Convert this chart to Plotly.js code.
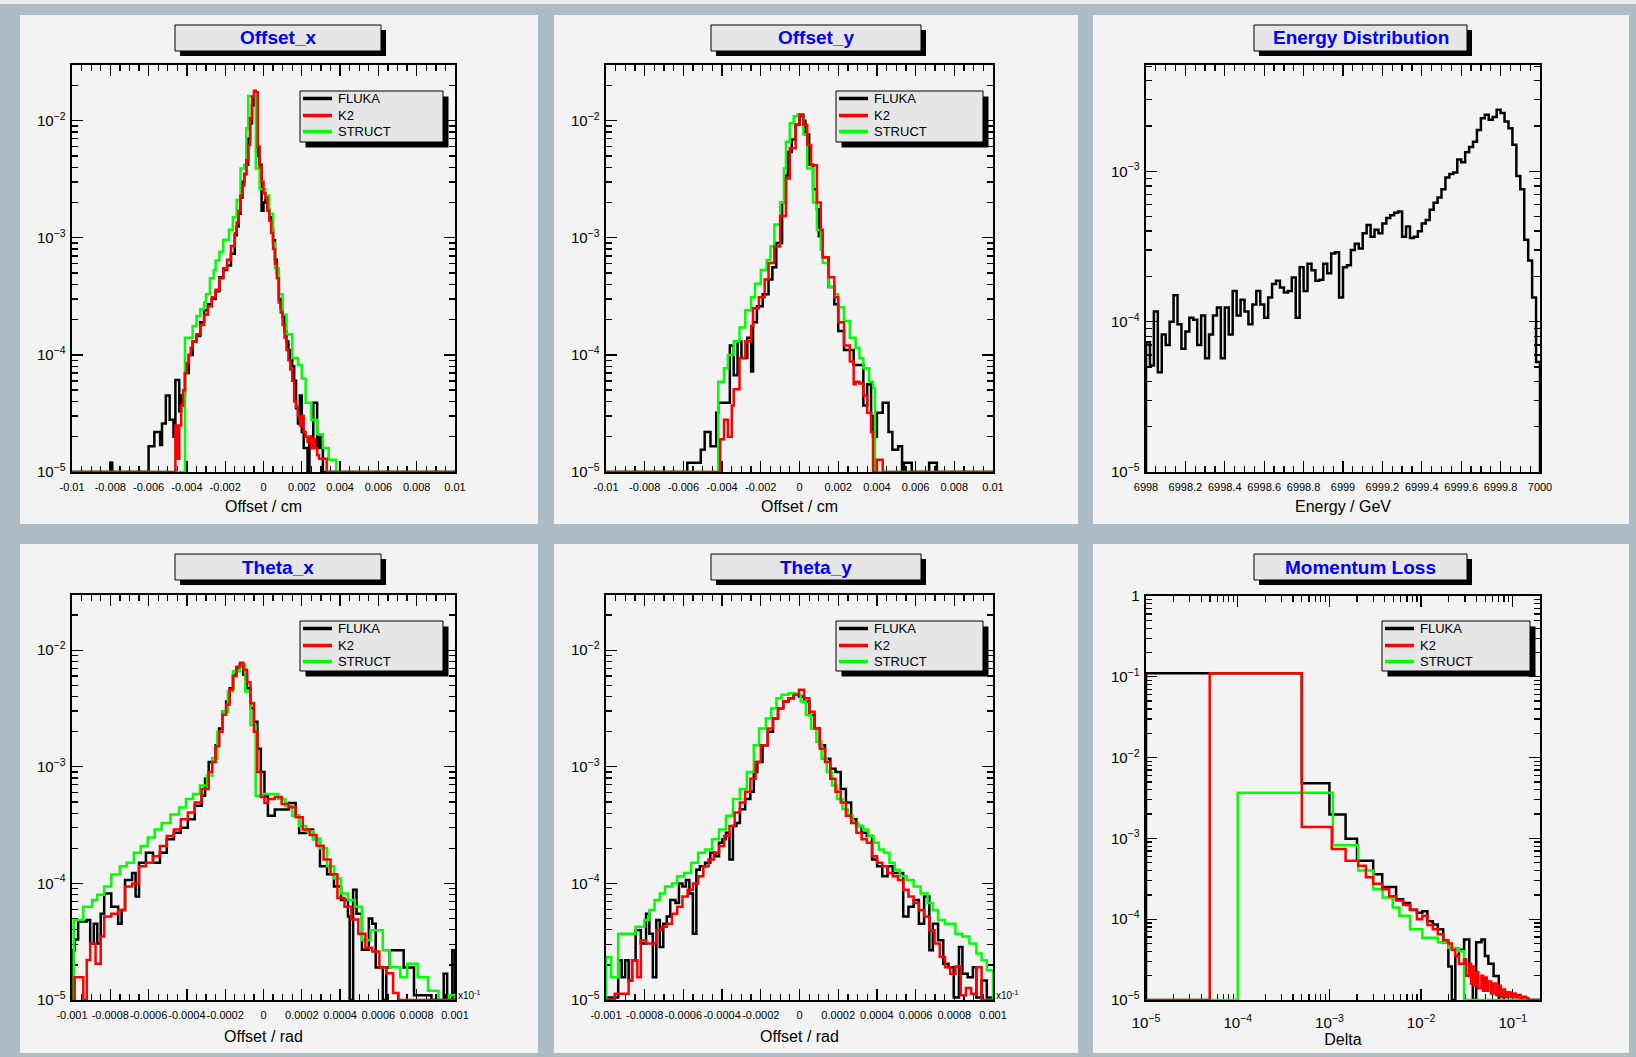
<!DOCTYPE html>
<html><head><meta charset="utf-8">
<script src="https://cdn.plot.ly/plotly-3.0.1.min.js"></script>
<style>html,body{margin:0;padding:0;background:#aebcc6;}#chart{width:1636px;height:1057px;}</style>
</head><body><div id="chart"></div>
<script>
// ---------------- DATA (bin left edges, bin contents; 0 = empty bin) ----------------
const seriesNames = ['FLUKA','K2','STRUCT'];
const panelTitles = ['Offset_x','Offset_y','Energy Distribution','Theta_x','Theta_y','Momentum Loss'];
const axisTitles = ['Offset / cm','Offset / cm','Energy / GeV','Offset / rad','Offset / rad','Delta'];

const offsetTickVals = [-0.01,-0.008,-0.006,-0.004,-0.002,0,0.002,0.004,0.006,0.008,0.01];
const offsetTickText = ['-0.01','-0.008','-0.006','-0.004','-0.002','0','0.002','0.004','0.006','0.008','0.01'];
const thetaTickVals = [-0.001,-0.0008,-0.0006,-0.0004,-0.0002,0,0.0002,0.0004,0.0006,0.0008,0.001];
const thetaTickText = ['-0.001','-0.0008','-0.0006','-0.0004','-0.0002','0','0.0002','0.0004','0.0006','0.0008','0.001'];
const energyTickVals = [6998,6998.2,6998.4,6998.6,6998.8,6999,6999.2,6999.4,6999.6,6999.8,7000];
const energyTickText = ['6998','6998.2','6998.4','6998.6','6998.8','6999','6999.2','6999.4','6999.6','6999.8','7000'];

// Offset_x
const offx_fluka_x = [-0.0080,-0.0079,-0.0060,-0.0057,-0.0054,-0.0053,-0.0051,-0.0049,-0.0047,-0.0046,-0.0044,-0.0043,-0.0041,-0.0039,-0.0037,-0.0035,-0.0033,-0.0031,-0.0029,-0.0027,-0.0025,-0.0023,-0.0021,-0.0019,-0.0017,-0.0015,-0.0014,-0.0013,-0.0012,-0.0011,-0.0010,-0.0009,-0.0008,-0.0007,-0.0006,-0.0005,-0.0004,-0.0003,-0.0002,-0.0001,0,0.0001,0.0002,0.0003,0.0004,0.0005,0.0006,0.0007,0.0008,0.0009,0.0010,0.0011,0.0012,0.0013,0.0014,0.0015,0.0016,0.0017,0.0018,0.0019,0.0020,0.0021,0.0022,0.0023,0.0024,0.0025,0.0026,0.0027,0.0028,0.0029,0.0030,0.0031,0.0032];
const offx_fluka_y = [1.2e-5,0,1.66e-5,2.2e-5,1.7e-5,2.6e-5,4.5e-5,2.8e-5,2.0e-5,6.1e-5,3.3e-5,4.5e-5,7.0e-5,1.0e-4,1.3e-4,1.45e-4,1.9e-4,2.4e-4,2.7e-4,3.0e-4,3.5e-4,4.6e-4,5.3e-4,5.8e-4,7.3e-4,1.05e-3,1.25e-3,1.6e-3,2.2e-3,3.0e-3,3.5e-3,4.2e-3,7.0e-3,9.5e-3,1.35e-2,1.55e-2,1.4e-2,5.0e-3,4.2e-3,1.7e-3,2.0e-3,2.1e-3,1.75e-3,1.5e-3,1.2e-3,9.5e-4,6.5e-4,5.0e-4,3.0e-4,2.5e-4,2.1e-4,1.6e-4,1.3e-4,1.1e-4,9.4e-5,8.0e-5,6.0e-5,3.5e-5,2.6e-5,4.5e-5,2.2e-5,1.6e-5,1.6e-5,0,2.0e-5,1.6e-5,3.9e-5,3.9e-5,1.6e-5,2.0e-5,1.6e-5,0,0];
const offx_k2_x = [-0.0046,-0.0045,-0.0044,-0.0043,-0.0042,-0.0041,-0.0040,-0.0039,-0.0038,-0.0037,-0.0035,-0.0033,-0.0031,-0.0029,-0.0027,-0.0025,-0.0023,-0.0021,-0.0019,-0.0017,-0.0015,-0.0014,-0.0013,-0.0012,-0.0011,-0.0010,-0.0009,-0.0008,-0.0007,-0.0006,-0.0005,-0.0004,-0.0003,-0.0002,-0.0001,0,0.0001,0.0002,0.0003,0.0004,0.0005,0.0006,0.0007,0.0008,0.0009,0.0010,0.0011,0.0012,0.0013,0.0014,0.0015,0.0016,0.0017,0.0018,0.0019,0.0020,0.0021,0.0022,0.0023,0.0024,0.0025,0.0026,0.0027,0.0028,0.0029,0.0030,0.0031,0.0032,0.0033];
const offx_k2_y = [2.5e-5,1.3e-5,2.5e-5,3.7e-5,5.0e-5,7.0e-5,8.5e-5,1.0e-4,1.15e-4,1.3e-4,1.5e-4,1.8e-4,2.2e-4,2.6e-4,3.1e-4,3.6e-4,4.5e-4,5.5e-4,6.5e-4,8.5e-4,1.1e-3,1.35e-3,1.7e-3,2.3e-3,2.8e-3,3.5e-3,4.6e-3,6.2e-3,1.05e-2,1.6e-2,1.8e-2,1.75e-2,6.0e-3,4.0e-3,3.0e-3,2.4e-3,2.2e-3,1.7e-3,1.4e-3,1.1e-3,8.0e-4,6.0e-4,4.5e-4,2.8e-4,2.3e-4,1.8e-4,1.4e-4,1.1e-4,9.0e-5,7.5e-5,6.0e-5,4.0e-5,3.6e-5,3.0e-5,2.5e-5,3.0e-5,2.2e-5,2.0e-5,1.8e-5,2.0e-5,1.6e-5,1.9e-5,1.6e-5,1.4e-5,1.3e-5,1.3e-5,1.3e-5,1.3e-5,0];
const offx_struct_x = [-0.0041,-0.0037,-0.0035,-0.0033,-0.0031,-0.0030,-0.0028,-0.0026,-0.0025,-0.0023,-0.0021,-0.0018,-0.0016,-0.0014,-0.0012,-0.0010,-0.0009,-0.0008,-0.0004,-0.0002,0.0001,0.0003,0.0005,0.0006,0.0008,0.0010,0.0012,0.0015,0.0018,0.0020,0.0022,0.0025,0.0028,0.0031,0.0034,0.0038];
const offx_struct_y = [1.4e-4,1.76e-4,2.15e-4,2.45e-4,2.8e-4,3.3e-4,4.5e-4,5.3e-4,6.4e-4,7.6e-4,9.6e-4,1.17e-3,1.5e-3,2.1e-3,3.9e-3,4.2e-3,8.6e-3,1.62e-2,3.9e-3,2.6e-3,2.3e-3,1.6e-3,9.0e-4,5.5e-4,3.3e-4,2.2e-4,1.5e-4,9.4e-5,8.2e-5,6.3e-5,3.9e-5,2.8e-5,2.1e-5,1.6e-5,1.27e-5,0];

// Offset_y
const offy_fluka_x = [-0.0058,-0.0051,-0.0049,-0.0046,-0.0043,-0.0042,-0.0036,-0.0034,-0.0032,-0.0030,-0.0027,-0.0025,-0.0024,-0.0022,-0.0019,-0.0016,-0.0014,-0.0012,-0.0009,-0.0007,-0.0006,-0.0004,-0.0002,0,0.0002,0.0003,0.0005,0.0007,0.0009,0.0010,0.0012,0.0015,0.0018,0.0020,0.0023,0.0026,0.0028,0.0031,0.0033,0.0035,0.0037,0.0038,0.0040,0.0043,0.0046,0.0048,0.0051,0.0053,0.0054,0.0058,0.0067,0.0071];
const offy_fluka_y = [1.2e-5,1.55e-5,2.2e-5,1.66e-5,3.2e-5,3.9e-5,1.2e-4,6.7e-5,1.3e-4,9.4e-5,1.4e-4,7.2e-5,1.9e-4,2.6e-4,3.3e-4,4.4e-4,5.6e-4,9.0e-4,2.0e-3,3.4e-3,5.4e-3,6.9e-3,9.2e-3,1.09e-2,1.0e-2,7.6e-3,4.2e-3,2.6e-3,1.75e-3,1.03e-3,6.8e-4,3.8e-4,2.7e-4,1.6e-4,1.1e-4,1.1e-4,8.2e-5,8.2e-5,3.7e-5,5.6e-5,3.0e-5,2.0e-5,3.2e-5,3.9e-5,2.2e-5,1.55e-5,1.66e-5,0,1.2e-5,0,1.2e-5,0];
const offy_k2_x = [-0.0041,-0.0039,-0.0037,-0.0035,-0.0034,-0.0031,-0.0028,-0.0025,-0.0024,-0.0021,-0.0018,-0.0016,-0.0013,-0.0010,-0.0007,-0.0005,-0.0002,0,0.0002,0.0004,0.0006,0.0009,0.0011,0.0012,0.0015,0.0018,0.0020,0.0023,0.0026,0.0028,0.0029,0.0031,0.0033,0.0035,0.0037,0.0038,0.0040,0.0043];
const offy_k2_y = [1.9e-5,2.8e-5,2.0e-5,3.7e-5,5.1e-5,9.4e-5,1.31e-4,1.76e-4,2.5e-4,3.1e-4,4.4e-4,6.1e-4,8.4e-4,1.53e-3,3.2e-3,5.8e-3,9.2e-3,1.13e-2,9.2e-3,6.2e-3,4.15e-3,2.0e-3,1.17e-3,6.8e-4,4.6e-4,3.1e-4,1.9e-4,1.2e-4,8.8e-5,5.6e-5,5.9e-5,5.7e-5,4.5e-5,3.2e-5,2.2e-5,0,1.27e-5,0];
const offy_struct_x = [-0.0042,-0.0039,-0.0037,-0.0034,-0.0031,-0.0028,-0.0025,-0.0023,-0.0020,-0.0017,-0.0015,-0.0013,-0.0010,-0.0008,-0.0007,-0.0005,-0.0003,-0.0001,0.0002,0.0004,0.0007,0.0009,0.0011,0.0012,0.0015,0.0018,0.0020,0.0023,0.0026,0.0029,0.0031,0.0033,0.0036,0.0038,0.0039];
const offy_struct_y = [5.9e-5,7.7e-5,1.0e-4,1.31e-4,1.71e-4,2.4e-4,3.1e-4,4.05e-4,5.3e-4,6.45e-4,8.4e-4,1.3e-3,2.0e-3,3.9e-3,6.6e-3,9.5e-3,1.09e-2,1.13e-2,7.6e-3,3.9e-3,2.0e-3,1.17e-3,7.9e-4,6.1e-4,3.8e-4,3.3e-4,2.55e-4,1.95e-4,1.4e-4,1.15e-4,9.4e-5,7.7e-5,5.9e-5,5.2e-5,0];

// Energy distribution (FLUKA only)
const energy_x = [6998.00,6998.02,6998.04,6998.06,6998.08,6998.10,6998.12,6998.14,6998.16,6998.18,6998.20,6998.22,6998.24,6998.26,6998.28,6998.30,6998.32,6998.34,6998.36,6998.38,6998.40,6998.42,6998.44,6998.46,6998.48,6998.50,6998.52,6998.54,6998.56,6998.58,6998.60,6998.62,6998.64,6998.66,6998.68,6998.70,6998.72,6998.74,6998.76,6998.78,6998.80,6998.82,6998.84,6998.86,6998.88,6998.90,6998.92,6998.94,6998.96,6998.98,6999.00,6999.02,6999.04,6999.06,6999.08,6999.10,6999.12,6999.14,6999.16,6999.18,6999.20,6999.22,6999.24,6999.26,6999.28,6999.30,6999.32,6999.34,6999.36,6999.38,6999.40,6999.42,6999.44,6999.46,6999.48,6999.50,6999.52,6999.54,6999.56,6999.58,6999.60,6999.62,6999.64,6999.66,6999.68,6999.70,6999.72,6999.74,6999.76,6999.78,6999.80,6999.82,6999.84,6999.86,6999.88,6999.90,6999.92,6999.94,6999.96,6999.98,7000.00];
const energy_y = [7.3e-5,5.1e-5,1.17e-4,4.6e-5,8.2e-5,7.0e-5,1.0e-4,1.5e-4,9.6e-5,6.6e-5,8.6e-5,1.06e-4,1.03e-4,7.0e-5,1.1e-4,5.7e-5,8.2e-5,1.1e-4,1.24e-4,5.7e-5,1.24e-4,8.2e-5,1.6e-4,1.1e-4,1.4e-4,1.17e-4,9.6e-5,1.3e-4,1.6e-4,1.3e-4,1.06e-4,1.45e-4,1.78e-4,1.87e-4,1.69e-4,1.56e-4,1.6e-4,1.97e-4,1.06e-4,2.3e-4,1.6e-4,2.43e-4,2.2e-4,1.87e-4,1.9e-4,2.43e-4,2.1e-4,2.84e-4,2.9e-4,1.45e-4,2.3e-4,2.37e-4,3.0e-4,3.3e-4,3.06e-4,3.87e-4,4.4e-4,3.67e-4,4.08e-4,3.87e-4,4.5e-4,4.9e-4,5.1e-4,5.3e-4,5.4e-4,3.67e-4,4.3e-4,3.6e-4,3.67e-4,4.0e-4,4.5e-4,4.75e-4,5.56e-4,6.17e-4,6.7e-4,7.6e-4,9.1e-4,9.6e-4,9.8e-4,1.2e-3,1.15e-3,1.34e-3,1.45e-3,1.57e-3,1.88e-3,2.25e-3,2.38e-3,2.2e-3,2.3e-3,2.57e-3,2.44e-3,2.14e-3,1.93e-3,1.5e-3,9.3e-4,7.6e-4,3.5e-4,2.55e-4,1.45e-4,5.4e-5,0];

// Theta_x
const thx_fluka_x = [-10.0e-4,-9.86e-4,-9.68e-4,-9.23e-4,-9.05e-4,-8.86e-4,-8.68e-4,-8.5e-4,-8.32e-4,-7.95e-4,-7.59e-4,-7.41e-4,-7.23e-4,-6.86e-4,-6.68e-4,-6.5e-4,-6.14e-4,-5.77e-4,-5.41e-4,-5.05e-4,-4.68e-4,-4.32e-4,-3.95e-4,-3.59e-4,-3.23e-4,-3.05e-4,-2.86e-4,-2.68e-4,-2.5e-4,-2.32e-4,-2.14e-4,-1.95e-4,-1.77e-4,-1.59e-4,-1.41e-4,-1.23e-4,-1.05e-4,-0.86e-4,-0.68e-4,-0.5e-4,-0.32e-4,-0.14e-4,0.05e-4,0.23e-4,0.59e-4,0.95e-4,1.32e-4,1.68e-4,1.86e-4,2.23e-4,2.59e-4,2.95e-4,3.32e-4,3.68e-4,4.05e-4,4.41e-4,4.5e-4,4.68e-4,4.86e-4,5.14e-4,5.5e-4,5.68e-4,5.86e-4,6.23e-4,6.41e-4,6.59e-4,6.95e-4,7.32e-4,7.86e-4,8.77e-4,9.41e-4,9.59e-4,9.86e-4,10.0e-4];
const thx_fluka_y = [2.67e-5,3.3e-5,4.7e-5,4.85e-5,3.05e-5,4.5e-5,3.05e-5,5.5e-5,8.2e-5,6.3e-5,4.5e-5,5.9e-5,1.07e-4,1.23e-4,7.7e-5,1.5e-4,1.83e-4,1.5e-4,1.83e-4,2.39e-4,2.72e-4,3.0e-4,3.55e-4,4.63e-4,5.65e-4,7.9e-4,1.1e-3,1.17e-3,1.53e-3,2.13e-3,2.97e-3,3.62e-3,4.72e-3,6.16e-3,7.03e-3,7.52e-3,6.16e-3,4.72e-3,3.17e-3,2.43e-3,1.43e-3,9.0e-4,5.6e-4,3.8e-4,4.3e-4,4.3e-4,4.9e-4,3.8e-4,2.7e-4,2.9e-4,2.4e-4,1.4e-4,1.2e-4,9.4e-5,7.2e-5,5.2e-5,0,8.8e-5,5.5e-5,2.7e-5,5.0e-5,4.5e-5,1.9e-5,0,1.9e-5,2.67e-5,2.67e-5,1.9e-5,1.1e-5,0,1.68e-5,0,2.67e-5,0];
const thx_k2_x = [-9.86e-4,-9.41e-4,-9.23e-4,-9.05e-4,-8.77e-4,-8.5e-4,-8.32e-4,-7.95e-4,-7.59e-4,-7.23e-4,-6.86e-4,-6.5e-4,-6.14e-4,-5.77e-4,-5.41e-4,-5.05e-4,-4.68e-4,-4.32e-4,-3.95e-4,-3.59e-4,-3.23e-4,-2.86e-4,-2.68e-4,-2.5e-4,-2.32e-4,-2.14e-4,-1.95e-4,-1.77e-4,-1.59e-4,-1.41e-4,-1.23e-4,-1.05e-4,-0.86e-4,-0.68e-4,-0.5e-4,-0.32e-4,-0.14e-4,0.05e-4,0.23e-4,0.59e-4,0.95e-4,1.32e-4,1.68e-4,2.05e-4,2.41e-4,2.77e-4,3.14e-4,3.5e-4,3.86e-4,4.23e-4,4.59e-4,4.95e-4,5.32e-4,5.68e-4,6.05e-4,6.41e-4,6.77e-4,7.05e-4];
const thx_k2_y = [1.57e-5,0,2.2e-5,3.05e-5,2.05e-5,3.5e-5,5.2e-5,5.5e-5,5.9e-5,9.4e-5,1.0e-4,1.4e-4,1.5e-4,1.71e-4,2.09e-4,2.55e-4,2.9e-4,3.55e-4,4.05e-4,4.95e-4,6.45e-4,9.0e-4,1.1e-3,1.5e-3,2.0e-3,2.8e-3,3.4e-3,4.6e-3,6.0e-3,7.2e-3,7.8e-3,6.8e-3,5.3e-3,3.5e-3,2.0e-3,9.0e-4,5.5e-4,4.9e-4,5.3e-4,5.5e-4,4.8e-4,4.5e-4,3.7e-4,2.9e-4,2.6e-4,2.1e-4,1.6e-4,1.2e-4,7.5e-5,6.3e-5,4.9e-5,3.7e-5,2.8e-5,2.6e-5,1.9e-5,1.7e-5,1.15e-5,0];
const thx_struct_x = [-9.91e-4,-9.41e-4,-8.95e-4,-8.68e-4,-8.32e-4,-7.95e-4,-7.5e-4,-7.14e-4,-6.77e-4,-6.41e-4,-6.05e-4,-5.68e-4,-5.32e-4,-4.86e-4,-4.41e-4,-4.05e-4,-3.68e-4,-3.32e-4,-2.95e-4,-2.68e-4,-2.41e-4,-2.14e-4,-1.86e-4,-1.59e-4,-1.23e-4,-0.95e-4,-0.68e-4,-0.41e-4,-0.05e-4,0.77e-4,1.14e-4,1.5e-4,1.86e-4,2.23e-4,2.59e-4,2.95e-4,3.32e-4,3.68e-4,4.05e-4,4.41e-4,4.77e-4,5.14e-4,5.59e-4,6.23e-4,6.59e-4,7.14e-4,7.5e-4,8.05e-4,8.59e-4,9.14e-4,9.68e-4,10.0e-4];
const thx_struct_y = [4.85e-5,6.3e-5,7.2e-5,8.0e-5,9.4e-5,1.19e-4,1.4e-4,1.5e-4,1.83e-4,2.09e-4,2.47e-4,2.9e-4,3.3e-4,3.9e-4,4.48e-4,5.3e-4,5.85e-4,6.9e-4,8.4e-4,1.17e-3,2.0e-3,2.97e-3,4.42e-3,6.6e-3,7.52e-3,4.42e-3,2.28e-3,5.65e-4,5.85e-4,5.3e-4,4.63e-4,3.8e-4,3.1e-4,2.8e-4,2.39e-4,2.0e-4,1.4e-4,1.1e-4,8.2e-5,7.2e-5,6.3e-5,3.26e-5,3.97e-5,2.67e-5,1.91e-5,1.57e-5,2.05e-5,1.57e-5,1.2e-5,0,1.1e-5,0];

// Theta_y
const thy_fluka_x = [-10.0e-4,-9.37e-4,-9.19e-4,-9.01e-4,-8.83e-4,-8.65e-4,-8.47e-4,-8.2e-4,-7.93e-4,-7.76e-4,-7.58e-4,-7.4e-4,-7.22e-4,-7.04e-4,-6.86e-4,-6.68e-4,-6.41e-4,-6.23e-4,-6.05e-4,-5.87e-4,-5.69e-4,-5.51e-4,-5.33e-4,-5.15e-4,-4.88e-4,-4.61e-4,-4.34e-4,-4.16e-4,-3.98e-4,-3.8e-4,-3.62e-4,-3.44e-4,-3.26e-4,-3.08e-4,-2.81e-4,-2.54e-4,-2.36e-4,-2.18e-4,-1.91e-4,-1.64e-4,-1.37e-4,-1.11e-4,-0.84e-4,-0.57e-4,-0.3e-4,-0.03e-4,0.24e-4,0.51e-4,0.78e-4,1.05e-4,1.32e-4,1.59e-4,1.86e-4,2.13e-4,2.4e-4,2.67e-4,2.94e-4,3.21e-4,3.48e-4,3.75e-4,4.01e-4,4.28e-4,4.55e-4,4.82e-4,5.09e-4,5.36e-4,5.63e-4,5.9e-4,6.17e-4,6.44e-4,6.71e-4,6.89e-4,7.16e-4,7.43e-4,7.7e-4,7.97e-4,8.24e-4,8.42e-4,8.69e-4,8.96e-4,9.14e-4,9.41e-4,9.68e-4,10.0e-4];
const thy_fluka_y = [1.05e-5,2.19e-5,1.57e-5,2.19e-5,1.47e-5,2.19e-5,3.97e-5,3.05e-5,5.5e-5,3.7e-5,1.57e-5,4.85e-5,2.85e-5,4.5e-5,5.2e-5,7.2e-5,6.8e-5,1.0e-4,9.4e-5,1.07e-4,8.2e-5,3.7e-5,1.31e-4,1.4e-4,1.5e-4,1.83e-4,1.71e-4,2.23e-4,2.39e-4,2.72e-4,1.6e-4,3.1e-4,3.3e-4,4.33e-4,5.3e-4,6.1e-4,9.0e-4,1.1e-3,1.53e-3,2.0e-3,2.6e-3,3.17e-3,3.62e-3,3.87e-3,4.14e-3,4.0e-3,3.62e-3,2.78e-3,2.13e-3,1.53e-3,1.17e-3,9.6e-4,9.0e-4,6.45e-4,4.95e-4,3.55e-4,3.1e-4,2.72e-4,2.55e-4,1.6e-4,1.4e-4,1.15e-4,1.4e-4,1.23e-4,1.23e-4,5.2e-5,6.3e-5,7.2e-5,4.5e-5,7.7e-5,2.67e-5,4.5e-5,3.26e-5,2.05e-5,1.91e-5,1.05e-5,2.85e-5,1.68e-5,1.57e-5,1.91e-5,1.05e-5,1.47e-5,1.05e-5,0];
const thy_k2_x = [-9.55e-4,-8.83e-4,-8.65e-4,-8.38e-4,-8.2e-4,-7.93e-4,-7.4e-4,-7.13e-4,-6.86e-4,-6.59e-4,-6.32e-4,-6.05e-4,-5.78e-4,-5.51e-4,-5.24e-4,-4.97e-4,-4.7e-4,-4.43e-4,-4.16e-4,-3.89e-4,-3.62e-4,-3.35e-4,-3.08e-4,-2.81e-4,-2.54e-4,-2.27e-4,-2.0e-4,-1.64e-4,-1.37e-4,-1.11e-4,-0.84e-4,-0.57e-4,-0.3e-4,-0.03e-4,0.24e-4,0.51e-4,0.78e-4,1.05e-4,1.32e-4,1.59e-4,1.86e-4,2.13e-4,2.4e-4,2.67e-4,2.94e-4,3.21e-4,3.48e-4,3.75e-4,4.01e-4,4.28e-4,4.55e-4,4.82e-4,5.09e-4,5.36e-4,5.63e-4,5.9e-4,6.17e-4,6.44e-4,6.71e-4,6.98e-4,7.25e-4,7.52e-4,7.79e-4,8.06e-4,8.33e-4,8.6e-4,8.87e-4,9.14e-4,9.41e-4];
const thy_k2_y = [1.13e-5,1.47e-5,2.19e-5,1.57e-5,3.26e-5,3.05e-5,3.97e-5,4.25e-5,4.5e-5,5.5e-5,6.3e-5,7.7e-5,8.8e-5,1.0e-4,1.15e-4,1.4e-4,1.6e-4,1.83e-4,2.09e-4,2.55e-4,3.1e-4,4.05e-4,4.95e-4,6.1e-4,7.9e-4,1.1e-3,1.53e-3,2.13e-3,2.6e-3,3.17e-3,3.62e-3,3.87e-3,4.14e-3,4.57e-3,3.87e-3,2.97e-3,2.13e-3,1.43e-3,1.1e-3,7.9e-4,6.1e-4,4.95e-4,3.8e-4,3.3e-4,2.72e-4,2.39e-4,2.23e-4,1.71e-4,1.5e-4,1.4e-4,1.23e-4,1.15e-4,1.07e-4,8.8e-5,7.7e-5,6.8e-5,5.9e-5,5.2e-5,3.97e-5,3.05e-5,2.34e-5,1.91e-5,1.68e-5,1.94e-5,1.1e-5,1.27e-5,1.13e-5,1.91e-5,0];
const thy_struct_x = [-10.0e-4,-9.73e-4,-9.37e-4,-8.47e-4,-8.02e-4,-7.76e-4,-7.49e-4,-7.22e-4,-6.95e-4,-6.59e-4,-6.32e-4,-5.96e-4,-5.6e-4,-5.24e-4,-4.88e-4,-4.52e-4,-4.16e-4,-3.8e-4,-3.44e-4,-3.08e-4,-2.72e-4,-2.36e-4,-2.09e-4,-1.74e-4,-1.46e-4,-1.19e-4,-0.93e-4,-0.57e-4,-0.21e-4,0.06e-4,0.33e-4,0.6e-4,0.87e-4,1.14e-4,1.41e-4,1.68e-4,1.95e-4,2.22e-4,2.49e-4,2.76e-4,3.03e-4,3.29e-4,3.56e-4,3.83e-4,4.1e-4,4.37e-4,4.65e-4,4.92e-4,5.18e-4,5.54e-4,5.9e-4,6.26e-4,6.62e-4,6.89e-4,7.16e-4,7.52e-4,8.06e-4,8.42e-4,8.78e-4,9.14e-4,9.41e-4,9.68e-4,10.0e-4];
const thy_struct_y = [2.34e-5,1.57e-5,3.7e-5,4.25e-5,4.85e-5,5.9e-5,7.2e-5,8.2e-5,9.4e-5,1.0e-4,1.15e-4,1.23e-4,1.5e-4,1.83e-4,1.95e-4,2.39e-4,2.9e-4,3.8e-4,5.3e-4,6.45e-4,9.0e-4,1.53e-3,2.13e-3,2.6e-3,3.17e-3,3.87e-3,4.14e-3,4.28e-3,4.14e-3,3.62e-3,2.78e-3,2.13e-3,1.64e-3,1.17e-3,9.0e-4,6.9e-4,5.3e-4,4.33e-4,3.8e-4,3.3e-4,3.1e-4,2.9e-4,2.55e-4,2.23e-4,1.95e-4,1.83e-4,1.5e-4,1.31e-4,1.15e-4,1.07e-4,9.4e-5,8.2e-5,6.8e-5,5.9e-5,4.85e-5,4.5e-5,3.7e-5,3.5e-5,3.05e-5,2.5e-5,2.19e-5,1.8e-5,0];

// Momentum loss (log x)
const mom_fluka_x = [1e-5,5e-4,1e-3,1.5e-3,2e-3,3e-3,3.76e-3,5.33e-3,6.35e-3,7.57e-3,9.0e-3,1.03e-2,1.17e-2,1.34e-2,1.52e-2,1.74e-2,1.98e-2,2.16e-2,2.36e-2,2.58e-2,2.94e-2,3.35e-2,3.66e-2,3.98e-2,4.54e-2,4.96e-2,5.41e-2,6.17e-2,7.03e-2];
const mom_fluka_y = [0.111,4.8e-3,1.97e-3,9.9e-4,5.3e-4,3.6e-4,2.5e-4,1.77e-4,1.59e-4,1.31e-4,1.2e-4,1.25e-4,9.4e-5,8.6e-5,7.5e-5,5.2e-5,2.6e-5,0,3.5e-5,4.2e-5,5.6e-5,1.98e-5,0,5.2e-5,5.6e-5,3.5e-5,2.8e-5,1.98e-5,0];
const mom_k2_x = [4.95e-5,5e-4,1.06e-3,1.5e-3,2.06e-3,2.5e-3,3.0e-3,3.76e-3,4.48e-3,5.33e-3,6.35e-3,7.57e-3,9.0e-3,1.03e-2,1.17e-2,1.34e-2,1.52e-2,1.74e-2,1.98e-2,2.16e-2,2.36e-2,2.58e-2,2.94e-2,3.1e-2,3.35e-2,3.5e-2,3.66e-2,3.8e-2,3.98e-2,4.2e-2,4.54e-2,4.75e-2,4.96e-2,5.2e-2,5.41e-2,5.8e-2,6.17e-2,6.6e-2,7.03e-2,7.4e-2,7.67e-2,8.2e-2,8.75e-2,9.4e-2,0.1,0.107,0.114,0.122,0.13,0.14,0.148];
const mom_k2_y = [0.111,1.38e-3,7.4e-4,5.3e-4,4.6e-4,3.3e-4,2.74e-4,2.34e-4,1.93e-4,1.7e-4,1.5e-4,1.3e-4,1.0e-4,1.1e-4,8.5e-5,7.5e-5,6.5e-5,5.5e-5,5.0e-5,4.2e-5,3.5e-5,2.8e-5,3.2e-5,2.0e-5,2.8e-5,1.6e-5,2.6e-5,1.5e-5,2.2e-5,1.4e-5,2.0e-5,1.3e-5,1.9e-5,1.3e-5,1.7e-5,1.2e-5,1.6e-5,1.15e-5,1.5e-5,1.1e-5,1.35e-5,1.1e-5,1.25e-5,1.1e-5,1.2e-5,1.08e-5,1.15e-5,1.05e-5,1.1e-5,1.05e-5,0];
const mom_struct_x = [1e-4,1.09e-3,2.06e-3,3.0e-3,3.8e-3,4.9e-3,5.8e-3,7.57e-3,1.03e-2,1.52e-2,1.98e-2,2.58e-2,2.94e-2];
const mom_struct_y = [3.67e-3,8.2e-4,4.0e-4,2.35e-4,1.86e-4,1.4e-4,1.1e-4,7.5e-5,5.9e-5,5.2e-5,4.4e-5,4.0e-5,0];

// ---------------- DRAWING ----------------
const W = 1636, H = 1057;
const FLOOR = 1e-5;
const FONT = 'Liberation Sans, Arial, Helvetica, sans-serif';
const COLORS = {FLUKA:'#000000', K2:'#ff0000', STRUCT:'#00ff00'};
const PAD = '#f3f3f3', CANVAS = '#aebcc6', BOX = '#e6e6e6';

function hist(xs, ys, xmin, xmax, name, n){
  const X=[xmin], Y=[FLOOR];
  const m=Math.min(xs.length, ys.length);
  for(let i=0;i<m;i++){ X.push(xs[i]); Y.push(ys[i]>0?ys[i]:FLOOR); }
  X.push(xmax); Y.push(FLOOR);
  return {type:'scatter', mode:'lines', x:X, y:Y, name:name,
    line:{shape:'hv', color:COLORS[name], width:2.5},
    xaxis:'x'+(n===1?'':n), yaxis:'y'+(n===1?'':n), showlegend:false, hoverinfo:'skip'};
}

const traces = [
  hist(offx_fluka_x, offx_fluka_y, -0.01, 0.01, 'FLUKA', 1),
  hist(offx_struct_x, offx_struct_y, -0.01, 0.01, 'STRUCT', 1),
  hist(offx_k2_x, offx_k2_y, -0.01, 0.01, 'K2', 1),
  hist(offy_fluka_x, offy_fluka_y, -0.01, 0.01, 'FLUKA', 2),
  hist(offy_struct_x, offy_struct_y, -0.01, 0.01, 'STRUCT', 2),
  hist(offy_k2_x, offy_k2_y, -0.01, 0.01, 'K2', 2),
  hist(energy_x, energy_y, 6998, 7000, 'FLUKA', 3),
  hist(thx_fluka_x, thx_fluka_y, -0.001, 0.001, 'FLUKA', 4),
  hist(thx_struct_x, thx_struct_y, -0.001, 0.001, 'STRUCT', 4),
  hist(thx_k2_x, thx_k2_y, -0.001, 0.001, 'K2', 4),
  hist(thy_fluka_x, thy_fluka_y, -0.001, 0.001, 'FLUKA', 5),
  hist(thy_struct_x, thy_struct_y, -0.001, 0.001, 'STRUCT', 5),
  hist(thy_k2_x, thy_k2_y, -0.001, 0.001, 'K2', 5),
  hist(mom_fluka_x, mom_fluka_y, 1e-5, 0.198, 'FLUKA', 6),
  hist(mom_struct_x, mom_struct_y, 1e-5, 0.198, 'STRUCT', 6),
  hist(mom_k2_x, mom_k2_y, 1e-5, 0.198, 'K2', 6)
];

// panel geometry in pixels
const frames = [
  {l:72, r:455, t:65, b:472},
  {l:606, r:993, t:65, b:472},
  {l:1146, r:1540, t:65, b:472},
  {l:72, r:455, t:595, b:1000},
  {l:606, r:993, t:595, b:1000},
  {l:1146, r:1540, t:596, b:1000}
];
const pads = [
  {l:20, r:538, t:15, b:524}, {l:554, r:1078, t:15, b:524}, {l:1093, r:1629, t:15, b:524},
  {l:20, r:538, t:544, b:1053}, {l:554, r:1078, t:544, b:1053}, {l:1093, r:1629, t:544, b:1053}
];
const titleBoxes = [
  {l:175, r:381, t:25, b:51}, {l:711, r:921, t:25, b:51}, {l:1254, r:1467, t:25, b:51},
  {l:175, r:381, t:554, b:580}, {l:711, r:921, t:554, b:580}, {l:1254, r:1467, t:554, b:580}
];
const legendBoxes = [
  {l:300, r:443, t:91, b:142}, {l:836, r:983, t:91, b:142}, null,
  {l:300, r:443, t:621, b:671}, {l:836, r:983, t:621, b:671}, {l:1382, r:1530, t:621, b:671}
];
const titleStandoff = [9, 9, 9, 11, 11, 0];

const fx = v => v/W, fy = v => 1 - v/H;

const tickBase = {
  showline:true, linecolor:'black', linewidth:2, mirror:'allticks',
  ticks:'inside', ticklen:11, tickwidth:1.3, tickcolor:'black',
  showgrid:false, zeroline:false, fixedrange:true, layer:'below traces',
  tickfont:{family:FONT, size:11, color:'black'}
};

function xLinear(i, range, vals, text, minorD, minor0){
  const f = frames[i];
  return Object.assign({}, tickBase, {
    domain:[fx(f.l), fx(f.r)], range:range, type:'linear', anchor:'y'+(i===0?'':i+1),
    tickmode:'array', tickvals:vals, ticktext:text, tickangle:0, ticklabelstandoff:4,
    minor:{tickmode:'linear', tick0:minor0, dtick:minorD, ticks:'inside', ticklen:6, tickwidth:1.3, tickcolor:'black', showgrid:false},
    title:{text:axisTitles[i], font:{family:FONT, size:16, color:'black'}, standoff:titleStandoff[i]}
  });
}
function logAxis(i, range, isX){
  const f = frames[i];
  const a = Object.assign({}, tickBase, {
    type:'log', range:range, tickmode:'linear', tick0:0, dtick:1, exponentformat:'power',
    minor:{dtick:'D1', ticks:'inside', ticklen:6, tickwidth:1.3, tickcolor:'black', showgrid:false},
    tickfont:{family:FONT, size:12, color:'black'}
  });
  if(isX){
    a.domain=[fx(f.l), fx(f.r)]; a.anchor='y'+(i===0?'':i+1); a.ticklabelstandoff=9;
    a.title={text:axisTitles[i], font:{family:FONT, size:16, color:'black'}, standoff:titleStandoff[i]};
  } else {
    a.domain=[fy(f.b), fy(f.t)]; a.anchor='x'+(i===0?'':i+1); a.ticklabelstandoff=2;
  }
  return a;
}

const layout = {
  width:W, height:H, margin:{l:0,r:0,t:0,b:0},
  paper_bgcolor:CANVAS, plot_bgcolor:PAD, showlegend:false, hovermode:false,
  font:{family:FONT, color:'black'},
  xaxis: xLinear(0, [-0.01,0.01], offsetTickVals, offsetTickText, 0.0005, 0),
  yaxis: logAxis(0, [-5,-1.525], false),
  xaxis2: xLinear(1, [-0.01,0.01], offsetTickVals, offsetTickText, 0.0005, 0),
  yaxis2: logAxis(1, [-5,-1.525], false),
  xaxis3: xLinear(2, [6998,7000], energyTickVals, energyTickText, 0.05, 6998),
  yaxis3: logAxis(2, [-5,-2.293], false),
  xaxis4: xLinear(3, [-0.001,0.001], thetaTickVals, thetaTickText, 0.00005, 0),
  yaxis4: logAxis(3, [-5,-1.527], false),
  xaxis5: xLinear(4, [-0.001,0.001], thetaTickVals, thetaTickText, 0.00005, 0),
  yaxis5: logAxis(4, [-5,-1.527], false),
  xaxis6: logAxis(5, [-5,-0.704], true),
  yaxis6: logAxis(5, [-5,0], false),
  shapes:[], annotations:[]
};

// top light strip of the window
layout.shapes.push({type:'rect', xref:'paper', yref:'paper', x0:0, x1:1, y0:fy(4), y1:1, fillcolor:'#e8ecef', line:{width:0}, layer:'below'});

function rect(b, fill, lw, dx, dy, layer){
  return {type:'rect', xref:'paper', yref:'paper', x0:fx(b.l+dx), x1:fx(b.r+dx), y0:fy(b.b+dy), y1:fy(b.t+dy),
    fillcolor:fill, line:{color:'black', width:lw}, layer:layer};
}

pads.forEach(p => layout.shapes.push(rect(p, PAD, 0, 0, 0, 'below')));

titleBoxes.forEach((b, i) => {
  layout.shapes.push(rect(b, 'black', 0, 5, 5, 'above'));
  layout.shapes.push(rect(b, BOX, 1, 0, 0, 'above'));
  layout.annotations.push({xref:'paper', yref:'paper', x:fx((b.l+b.r)/2), y:fy((b.t+b.b)/2),
    text:'<b>'+panelTitles[i]+'</b>', showarrow:false, xanchor:'center', yanchor:'middle',
    font:{family:FONT, size:19, color:'#0000ff'}});
});

const legendOrder = ['FLUKA','K2','STRUCT'];
const rowOffsets = [7.5, 24.5, 40.5];
legendBoxes.forEach(b => {
  if(!b) return;
  layout.shapes.push(rect(b, 'black', 0, 5.5, 5.5, 'above'));
  layout.shapes.push(rect(b, BOX, 1, 0, 0, 'above'));
  legendOrder.forEach((nm, k) => {
    const yy = b.t + rowOffsets[k];
    layout.shapes.push({type:'line', xref:'paper', yref:'paper', x0:fx(b.l+3), x1:fx(b.l+32), y0:fy(yy), y1:fy(yy),
      line:{color:COLORS[nm], width:3.5}, layer:'above'});
    layout.annotations.push({xref:'paper', yref:'paper', x:fx(b.l+36), y:fy(yy), text:nm, showarrow:false,
      xanchor:'left', yanchor:'middle', font:{family:FONT, size:13, color:'black'}});
  });
});

// ROOT exponent markers on the theta axes
[[456, 995], [994, 995]].forEach(p => {
  layout.annotations.push({xref:'paper', yref:'paper', x:fx(p[0]), y:fy(p[1]), text:'x10<sup>-1</sup>', showarrow:false,
    xanchor:'left', yanchor:'middle', font:{family:FONT, size:10, color:'black'}});
});

Plotly.newPlot('chart', traces, layout, {staticPlot:true, displayModeBar:false});
</script>
</body></html>
